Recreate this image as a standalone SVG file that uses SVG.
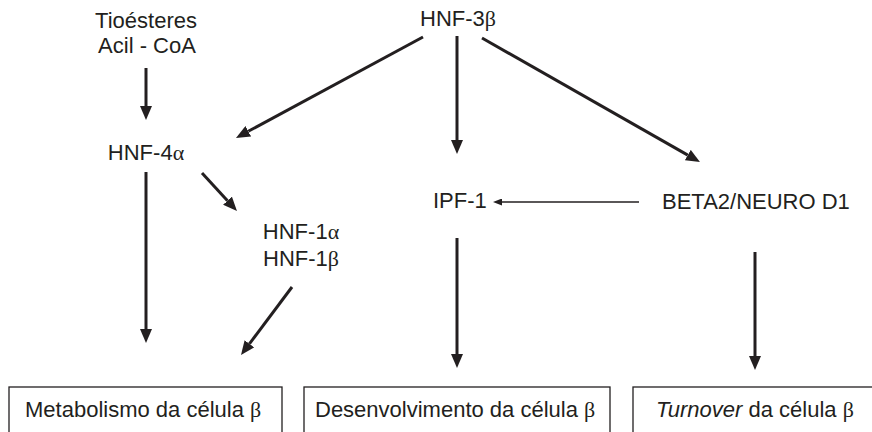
<svg xmlns="http://www.w3.org/2000/svg" width="872" height="432" viewBox="0 0 872 432">
<defs>
<style>
text{font-family:"Liberation Sans",Arial,sans-serif;font-size:22px;fill:#231f20}
.c{text-anchor:middle}
.g{font-family:"Liberation Serif","Times New Roman",serif}
.box{fill:#fff;stroke:#231f20;stroke-width:1.3}
.a{stroke:#231f20;stroke-width:3;fill:none;marker-end:url(#ah)}
.t{stroke:#231f20;stroke-width:1.3;fill:none;marker-end:url(#ht)}
</style>
<marker id="ah" markerUnits="userSpaceOnUse" markerWidth="14" markerHeight="12" viewBox="0 0 14 12" refX="0" refY="6" orient="auto"><path d="M0,0 L14,6 L0,12 z" fill="#231f20"/></marker>
<marker id="ht" markerUnits="userSpaceOnUse" markerWidth="9" markerHeight="7" viewBox="0 0 9 7" refX="0" refY="3.5" orient="auto"><path d="M0,0 L9,3.5 L0,7 z" fill="#231f20"/></marker>
</defs>
<rect width="872" height="432" fill="#fff"/>
<g id="connectors">
<line class="a" x1="146" y1="68" x2="146" y2="106"/>
<line class="a" x1="423" y1="37" x2="248.3" y2="131.3"/>
<line class="a" x1="457" y1="36" x2="457" y2="140"/>
<line class="a" x1="482" y1="38" x2="687.8" y2="155.1"/>
<line class="a" x1="146" y1="172" x2="146" y2="329"/>
<line class="a" x1="202" y1="173" x2="227.5" y2="200.7"/>
<line class="a" x1="292" y1="287" x2="249.4" y2="343.8"/>
<line class="a" x1="457" y1="238" x2="457" y2="354"/>
<line class="a" x1="755" y1="252" x2="755" y2="356"/>
<line class="t" x1="639" y1="202" x2="502" y2="202"/>
</g>
<g id="tioesteres"><text class="c" x="146" y="28">Tioésteres</text><text class="c" x="147" y="53">Acil - CoA</text></g>
<g id="hnf3b"><text class="c" x="458" y="26">HNF-3<tspan class="g">β</tspan></text></g>
<g id="hnf4a"><text class="c" x="146" y="160">HNF-4<tspan class="g">α</tspan></text></g>
<g id="hnf1"><text class="c" x="301" y="239">HNF-1<tspan class="g">α</tspan></text><text class="c" x="301" y="266">HNF-1<tspan class="g">β</tspan></text></g>
<g id="ipf1"><text x="433" y="208">IPF-1</text></g>
<g id="beta2"><text x="662" y="209">BETA2/NEURO D1</text></g>
<g id="metabolismo"><rect class="box" x="9" y="387" width="273" height="60"/><text x="25" y="417">Metabolismo da célula <tspan class="g">β</tspan></text></g>
<g id="desenvolvimento"><rect class="box" x="304" y="387" width="306" height="60"/><text x="315" y="417">Desenvolvimento da célula <tspan class="g">β</tspan></text></g>
<g id="turnover"><rect class="box" x="633" y="387" width="260" height="60"/><text x="656" y="417"><tspan font-style="italic">Turnover</tspan> da célula <tspan class="g">β</tspan></text></g>
</svg>
